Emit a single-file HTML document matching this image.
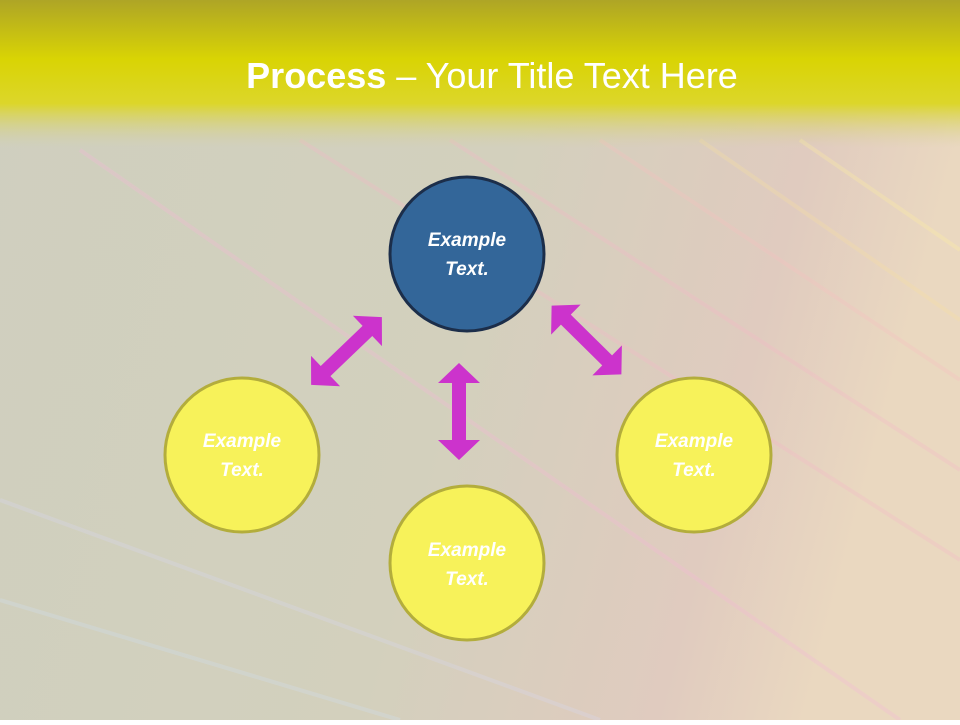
<!DOCTYPE html>
<html><head><style>
body{margin:0;width:960px;height:720px;overflow:hidden;font-family:"Liberation Sans",sans-serif}
</style></head><body>
<svg width="960" height="720" viewBox="0 0 960 720" xmlns="http://www.w3.org/2000/svg">
<defs>
<linearGradient id="hdr" x1="0" y1="0" x2="0" y2="1">
<stop offset="0" stop-color="#aea526"/>
<stop offset="0.4" stop-color="#d9d404"/>
<stop offset="0.7" stop-color="#dcd62a"/>
<stop offset="1" stop-color="#d6d2a0" stop-opacity="0"/>
</linearGradient>
<linearGradient id="bg" x1="0" y1="0" x2="1" y2="0.2">
<stop offset="0" stop-color="#cfcfbf"/>
<stop offset="0.55" stop-color="#d3d0bd"/>
<stop offset="0.85" stop-color="#e0cbbf"/>
<stop offset="1" stop-color="#ead8c0"/>
</linearGradient>
</defs>
<rect width="960" height="720" fill="url(#bg)"/>
<g stroke-width="4" opacity="0.3">
<line x1="300" y1="140" x2="960" y2="560" stroke="#f6b8c8"/>
<line x1="450" y1="140" x2="960" y2="470" stroke="#f6b8c8"/>
<line x1="600" y1="140" x2="960" y2="380" stroke="#f8c0c0"/>
<line x1="700" y1="140" x2="960" y2="320" stroke="#f8e0a0"/>
<line x1="800" y1="140" x2="960" y2="250" stroke="#fff0a0"/>
<line x1="80" y1="150" x2="900" y2="720" stroke="#f6b8d8"/>
<line x1="0" y1="500" x2="600" y2="720" stroke="#d8d8f0"/>
<line x1="0" y1="600" x2="400" y2="720" stroke="#d0e0f0"/>
</g>
<rect x="0" y="0" width="960" height="148" fill="url(#hdr)"/>
<text x="492" y="88" text-anchor="middle" fill="#fff" font-size="36"><tspan font-weight="bold">Process</tspan> – Your Title Text Here</text>
<g fill="#cc33cc">
<g transform="translate(459,411.5) rotate(90)"><polygon points="-48.5,0 -28.5,-21 -28.5,-7 28.5,-7 28.5,-21 48.5,0 28.5,21 28.5,7 -28.5,7 -28.5,21"/></g>
<g transform="translate(346.5,351) rotate(-43.8)"><polygon points="-49,0 -29,-21 -29,-7 29,-7 29,-21 49,0 29,21 29,7 -29,7 -29,21"/></g>
<g transform="translate(586.5,340) rotate(44.6)"><polygon points="-49,0 -29,-21 -29,-7 29,-7 29,-21 49,0 29,21 29,7 -29,7 -29,21"/></g>
</g>
<circle cx="467" cy="254" r="77" fill="#336699" stroke="#1c2e4a" stroke-width="3"/>
<circle cx="242" cy="455" r="77" fill="#f7f25a" stroke="#b3ad3c" stroke-width="3"/>
<circle cx="467" cy="563" r="77" fill="#f7f25a" stroke="#b3ad3c" stroke-width="3"/>
<circle cx="694" cy="455" r="77" fill="#f7f25a" stroke="#b3ad3c" stroke-width="3"/>
<g fill="#fff" font-size="19" font-weight="bold" font-style="italic" text-anchor="middle">
<text x="467" y="246">Example</text><text x="467" y="275">Text.</text>
<text x="242" y="447">Example</text><text x="242" y="476">Text.</text>
<text x="467" y="556">Example</text><text x="467" y="585">Text.</text>
<text x="694" y="447">Example</text><text x="694" y="476">Text.</text>
</g>
</svg>
</body></html>
